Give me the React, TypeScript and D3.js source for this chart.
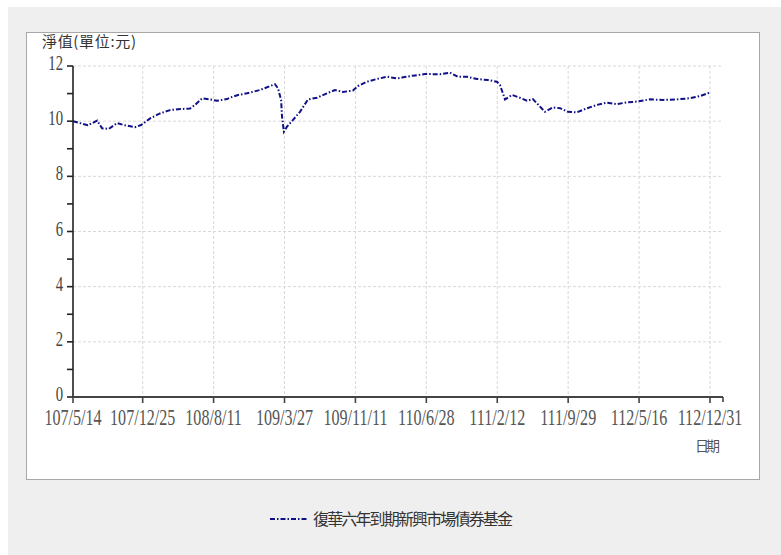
import React from "react";
import * as d3 from "d3";

const seriesName = "復華六年到期新興市場債券基金";
const yAxisTitle = "淨值(單位:元)";
const xAxisTitle = "日期";

const xTickLabels = [
  "107/5/14", "107/12/25", "108/8/11", "109/3/27", "109/11/11",
  "110/6/28", "111/2/12", "111/9/29", "112/5/16", "112/12/31",
];
const yTicks = [0, 2, 4, 6, 8, 10, 12];
const yMinorTicks = [1, 3, 5, 7, 9, 11];

const navDates = [
  "2018-05-14", "2018-06-06", "2018-07-01", "2018-07-31", "2018-08-16", "2018-09-07",
  "2018-10-03", "2018-10-29", "2018-11-30", "2018-12-20", "2019-01-18", "2019-02-19",
  "2019-03-23", "2019-04-25", "2019-05-27", "2019-06-12", "2019-07-05", "2019-07-30",
  "2019-08-22", "2019-09-23", "2019-10-10", "2019-10-29", "2019-11-27", "2020-01-08",
  "2020-02-09", "2020-02-25", "2020-03-06", "2020-03-16", "2020-03-19", "2020-03-25",
  "2020-04-04", "2020-04-23", "2020-05-16", "2020-06-11", "2020-07-10", "2020-08-11",
  "2020-09-06", "2020-10-02", "2020-11-03", "2020-11-19", "2020-12-18", "2021-01-20",
  "2021-02-21", "2021-03-28", "2021-04-14", "2021-05-16", "2021-06-24", "2021-08-11",
  "2021-09-12", "2021-10-08", "2021-11-06", "2021-12-09", "2022-01-13", "2022-02-11",
  "2022-02-21", "2022-03-09", "2022-04-01", "2022-04-26", "2022-05-19", "2022-06-07",
  "2022-07-16", "2022-08-11", "2022-09-03", "2022-09-28", "2022-10-27", "2022-11-29",
  "2022-12-31", "2023-02-01", "2023-03-06", "2023-04-07", "2023-05-09", "2023-06-20",
  "2023-08-01", "2023-09-15", "2023-10-27", "2023-11-29", "2023-12-24", "2023-12-29",
];
const navValues = [
  10.0, 9.93, 9.85, 10.02, 9.74, 9.72,
  9.93, 9.85, 9.78, 9.86, 10.1, 10.28,
  10.4, 10.44, 10.46, 10.59, 10.83, 10.79,
  10.74, 10.8, 10.88, 10.95, 11.01, 11.13,
  11.27, 11.34, 11.19, 10.77, 10.16, 9.62,
  9.8, 10.04, 10.34, 10.79, 10.85, 11.01,
  11.13, 11.06, 11.11, 11.27, 11.43, 11.53,
  11.61, 11.55, 11.59, 11.65, 11.71, 11.7,
  11.76, 11.61, 11.61, 11.53, 11.49, 11.43,
  11.31, 10.79, 10.95, 10.85, 10.74, 10.8,
  10.34, 10.5, 10.47, 10.34, 10.32, 10.47,
  10.59, 10.67, 10.62, 10.68, 10.71, 10.79,
  10.77, 10.79, 10.83, 10.91, 11.01, 11.03,
];

const rocToDate = (s: string) => {
  const [y, m, d] = s.split("/").map(Number);
  return new Date(y + 1911, m - 1, d);
};
const parseDate = d3.timeParse("%Y-%m-%d");

const NUM_FONT = "'Liberation Serif', 'Times New Roman', serif";
const CJK_FONT = "'Noto Sans CJK TC', 'Noto Sans CJK SC', sans-serif";
const LINE_COLOR = "#101088";
const DASH = "5,2,1.5,2";

function CText({ x, y, anchor, size, fill, children }: any) {
  return (
    <text
      transform={`translate(${x},${y}) scale(0.7,1)`}
      textAnchor={anchor}
      fontFamily={NUM_FONT}
      fontSize={size}
      fill={fill}
    >
      {children}
    </text>
  );
}

export default function App() {
  const W = 781, H = 555;
  const left = 73, right = 723, top = 66, bottom = 397;
  const x = d3
    .scaleTime()
    .domain([rocToDate(xTickLabels[0]), new Date(2024, 1, 11)])
    .range([left, right]);
  const y = d3.scaleLinear().domain([0, 12]).range([bottom, top]);

  const data = navDates.map((d, i) => ({ date: parseDate(d) as Date, v: navValues[i] }));
  const line = d3
    .line<{ date: Date; v: number }>()
    .x((d) => x(d.date))
    .y((d) => y(d.v));

  const xTicks = xTickLabels.map((l) => ({ label: l, pos: x(rocToDate(l)) }));

  return (
    <svg
      width={W}
      height={H}
      style={{ position: "absolute", left: 0, top: 0 }}
      xmlns="http://www.w3.org/2000/svg"
    >
      <rect x={0} y={0} width={W} height={H} fill="#ffffff" />
      <rect x={8} y={7} width={W - 8} height={H - 7} fill="#efefef" />
      <rect x={26.5} y={32.5} width={733} height={447} fill="#ffffff" stroke="#a8a8a8" strokeWidth={1} />

      {/* grid */}
      {yTicks.filter((t) => t > 0).map((t) => (
        <line key={"gy" + t} x1={left} x2={right} y1={y(t)} y2={y(t)} stroke="#d8d8d8" strokeDasharray="3,2" strokeWidth={1} />
      ))}
      {xTicks.slice(1).map((t) => (
        <line key={"gx" + t.label} x1={t.pos} x2={t.pos} y1={top} y2={bottom} stroke="#d8d8d8" strokeDasharray="3,2" strokeWidth={1} />
      ))}

      {/* y axis */}
      <line x1={left} x2={left} y1={top} y2={bottom} stroke="#222" strokeWidth={1.6} />
      {yTicks.map((t) => (
        <line key={"yt" + t} x1={left - 6} x2={left} y1={y(t)} y2={y(t)} stroke="#222" strokeWidth={1.6} />
      ))}
      {yMinorTicks.map((t) => (
        <line key={"ym" + t} x1={left - 6} x2={left} y1={y(t)} y2={y(t)} stroke="#222" strokeWidth={1.6} />
      ))}
      {yTicks.map((t) => (
        <CText key={"yl" + t} x={63} y={y(t) + 4} anchor="end" size={21} fill="#444">
          {t}
        </CText>
      ))}

      {/* x axis */}
      <line x1={left} x2={right} y1={bottom} y2={bottom} stroke="#444" strokeWidth={1.8} />
      {xTicks.map((t) => (
        <line key={"xt" + t.label} x1={t.pos} x2={t.pos} y1={bottom} y2={bottom + 6} stroke="#444" strokeWidth={1.6} />
      ))}
      <line x1={right} x2={right} y1={bottom} y2={bottom + 5} stroke="#444" strokeWidth={1.6} />
      {xTicks.map((t) => (
        <CText key={"xl" + t.label} x={t.pos} y={425} anchor="middle" size={23} fill="#555">
          {t.label}
        </CText>
      ))}

      {/* titles */}
      <text x={42} y={47} fontFamily={CJK_FONT} fontSize={15} fill="#333" textLength={94} lengthAdjust="spacing">
        {yAxisTitle}
      </text>
      <text x={695} y={451} fontFamily={CJK_FONT} fontSize={14} fill="#555" textLength={25} lengthAdjust="spacing">
        {xAxisTitle}
      </text>

      {/* series */}
      <path d={line(data) || ""} fill="none" stroke={LINE_COLOR} strokeWidth={2} strokeDasharray={DASH} />

      {/* legend */}
      <line x1={270} x2={307} y1={519} y2={519} stroke={LINE_COLOR} strokeWidth={2} strokeDasharray={DASH} />
      <text x={313} y={525} fontFamily={CJK_FONT} fontSize={16} fill="#333" textLength={200} lengthAdjust="spacing">
        {seriesName}
      </text>
    </svg>
  );
}
